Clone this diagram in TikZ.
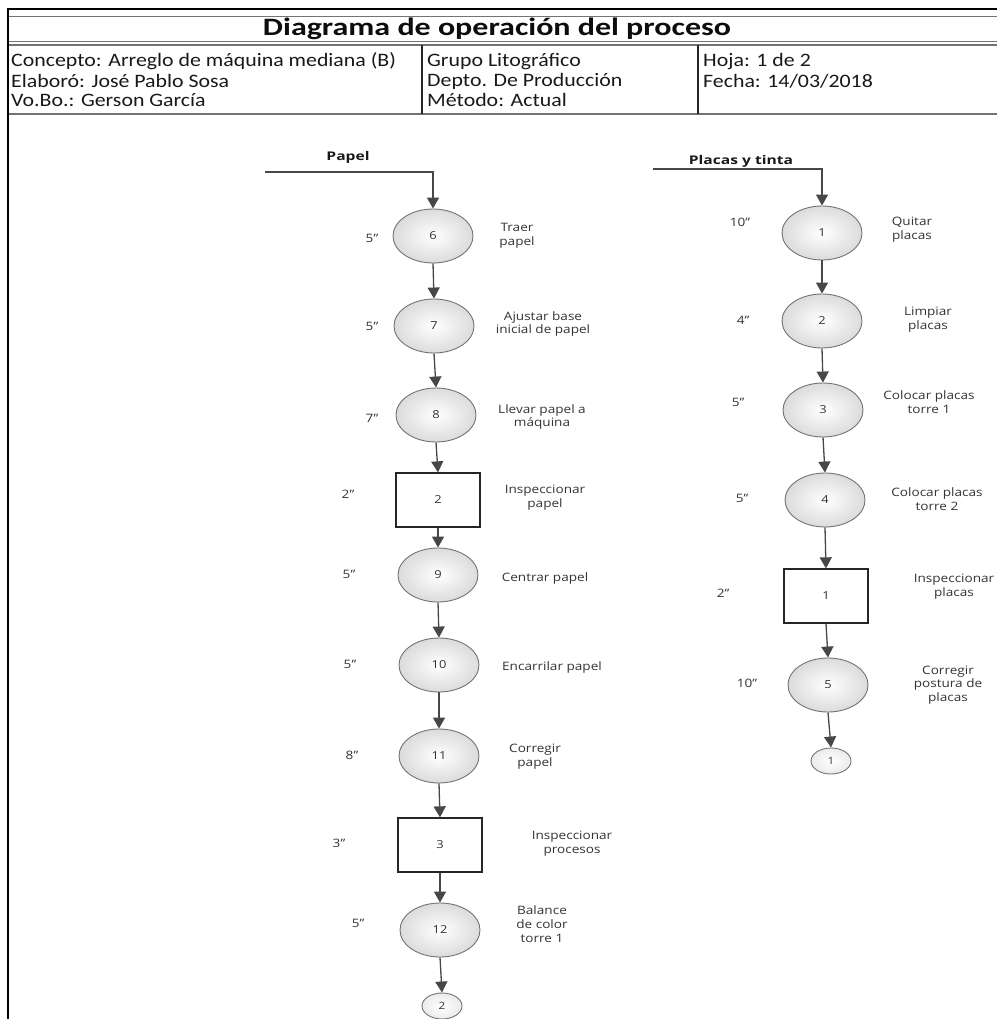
\documentclass[tikz,border=0pt]{standalone}
\usepackage{fontspec}
\setmainfont{Open Sans}
\newfontfamily\headfont[FakeStretch=1.15]{Carlito}
\newfontfamily\titlefont[FakeStretch=1.28]{Carlito}
\newfontfamily\labelfont[FakeStretch=1.17]{Open Sans}
\newfontfamily\feedfont[FakeStretch=1.3]{Open Sans}
\usetikzlibrary{shapes.geometric,arrows.meta}

\begin{document}
\begin{tikzpicture}[x=1pt,y=-1pt,
  proc/.style={ellipse, draw=black!55, line width=0.9pt, inner color=white, outer color=black!14,
    minimum width=80pt, minimum height=54pt, inner sep=0pt,
    font=\labelfont\fontsize{11}{12}\selectfont, text=black!80},
  insp/.style={rectangle, draw=black!85, line width=1.3pt, fill=white,
    minimum width=84pt, minimum height=54pt, inner sep=0pt,
    font=\labelfont\fontsize{11}{12}\selectfont, text=black!80},
  link/.style={ellipse, draw=black!55, line width=0.9pt, inner color=white, outer color=black!8,
    minimum width=40pt, minimum height=26pt, inner sep=0pt,
    font=\labelfont\fontsize{10}{11}\selectfont, text=black!80},
  flow/.style={draw=black!72, line width=1.3pt, -{Triangle[width=12pt,length=11pt]}},
  tlabel/.style={font=\labelfont\fontsize{11.6}{13}\selectfont, text=black!80, inner sep=0pt},
  dlabel/.style={font=\labelfont\fontsize{11.6}{13.8}\selectfont, text=black!80, align=center, inner sep=0pt},
  feed/.style={font=\feedfont\bfseries\fontsize{12}{13}\selectfont, text=black!90, inner sep=0pt},
  head/.style={font=\headfont\fontsize{19}{20}\selectfont, anchor=west, inner sep=0pt, text=black!90},
  frame/.style={draw=black, line width=2.2pt},
  rule/.style={draw=black!55, line width=1.1pt}
]
\useasboundingbox (0,0) rectangle (997,1019);

% form frame and header rules
\draw[frame] (997,9) -- (8,9) -- (8,1019);
\draw[rule] (9,16.5) -- (997,16.5);
\draw[rule] (9,41.5) -- (997,41.5);
\draw[rule] (9,45) -- (997,45);
\draw[rule] (9,114) -- (997,114);
\draw[draw=black!85, line width=1.2pt] (422,45) -- (422,114);
\draw[draw=black!85, line width=1.2pt] (698,45) -- (698,114);

% title and header fields
\node[font=\titlefont\bfseries\fontsize{25}{26}\selectfont, inner sep=0pt, text=black!95] (title) at (497,29)
  {Diagrama de operación del proceso};
\node[head] (concepto) at (11,61.5) {Concepto: Arreglo de máquina mediana (B)};
\node[head] (elaboro) at (11,81) {Elaboró: José Pablo Sosa};
\node[head] (vobo) at (11,100) {Vo.Bo.: Gerson García};
\node[head] (grupo) at (427,61.5) {Grupo Litográfico};
\node[head] (depto) at (427,81) {Depto. De Producción};
\node[head] (metodo) at (427,100) {Método: Actual};
\node[head] (hoja) at (703,61.5) {Hoja: 1 de 2};
\node[head] (fecha) at (703,81) {Fecha: 14/03/2018};

% ---------------- paper line ----------------
\node[feed] (papel) at (348,157) {Papel};
\coordinate (pin) at (265,172);

\node[proc] (c6)  at (433,236) {6};
\node[proc] (c7)  at (434,326) {7};
\node[proc] (c8)  at (436,415) {8};
\node[insp] (b2)  at (438,500) {2};
\node[proc] (c9)  at (438,575) {9};
\node[proc] (c10) at (439,665) {10};
\node[proc] (c11) at (439,756) {11};
\node[insp] (b3)  at (440,845) {3};
\node[proc] (c12) at (440,930) {12};
\node[link] (k2)  at (442,1006) {2};

\draw[flow] (pin) -| (c6.north);
\draw[flow] (c6.south) -- (c7.north);
\draw[flow] (c7.south) -- (c8.north);
\draw[flow] (c8.south) -- (b2.north);
\draw[flow] (b2.south) -- (c9.north);
\draw[flow] (c9.south) -- (c10.north);
\draw[flow] (c10.south) -- (c11.north);
\draw[flow] (c11.south) -- (b3.north);
\draw[flow] (b3.south) -- (c12.north);
\draw[flow] (c12.south) -- (k2.north);

\node[tlabel] (t6)  at (372,238) {5”};
\node[tlabel] (t7)  at (372,326) {5”};
\node[tlabel] (t8)  at (372,418) {7”};
\node[tlabel] (tb2) at (348,494) {2”};
\node[tlabel] (t9)  at (349,574) {5”};
\node[tlabel] (t10) at (350,664) {5”};
\node[tlabel] (t11) at (352,755) {8”};
\node[tlabel] (tb3) at (339,843) {3”};
\node[tlabel] (t12) at (358,923) {5”};

\node[dlabel] (d6)  at (517,236) {Traer\\papel};
\node[dlabel] (d7)  at (543,324) {Ajustar base\\inicial de papel};
\node[dlabel] (d8)  at (542,417) {Llevar papel a\\máquina};
\node[dlabel] (db2) at (545,498) {Inspeccionar\\papel};
\node[dlabel] (d9)  at (545,578) {Centrar papel};
\node[dlabel] (d10) at (552,667) {Encarrilar papel};
\node[dlabel] (d11) at (535,757) {Corregir\\papel};
\node[dlabel] (db3) at (572,844) {Inspeccionar\\procesos};
\node[dlabel] (d12) at (542,924) {Balance\\de color\\torre 1};

% ---------------- plates and ink line ----------------
\node[feed] (placas) at (741,161) {Placas y tinta};
\coordinate (rin) at (653,169);

\node[proc] (r1) at (822,233) {1};
\node[proc] (r2) at (822,321) {2};
\node[proc] (r3) at (823,410) {3};
\node[proc] (r4) at (825,500) {4};
\node[insp] (q1) at (826,596) {1};
\node[proc] (r5) at (828,685) {5};
\node[link] (k1) at (831,761) {1};

\draw[flow] (rin) -| (r1.north);
\draw[flow] (r1.south) -- (r2.north);
\draw[flow] (r2.south) -- (r3.north);
\draw[flow] (r3.south) -- (r4.north);
\draw[flow] (r4.south) -- (q1.north);
\draw[flow] (q1.south) -- (r5.north);
\draw[flow] (r5.south) -- (k1.north);

\node[tlabel] (s1)  at (740,222) {10”};
\node[tlabel] (s2)  at (743,320) {4”};
\node[tlabel] (s3)  at (738,402) {5”};
\node[tlabel] (s4)  at (742,498) {5”};
\node[tlabel] (sq1) at (723,593) {2”};
\node[tlabel] (s5)  at (747,683) {10”};

\node[dlabel] (e1)  at (912,230) {Quitar\\placas};
\node[dlabel] (e2)  at (928,320) {Limpiar\\placas};
\node[dlabel] (e3)  at (929,402) {Colocar placas\\torre 1};
\node[dlabel] (e4)  at (937,499) {Colocar placas\\torre 2};
\node[dlabel] (eq1) at (954,587) {Inspeccionar\\placas};
\node[dlabel] (e5)  at (948,685) {Corregir\\postura de\\placas};
\end{tikzpicture}
\end{document}
